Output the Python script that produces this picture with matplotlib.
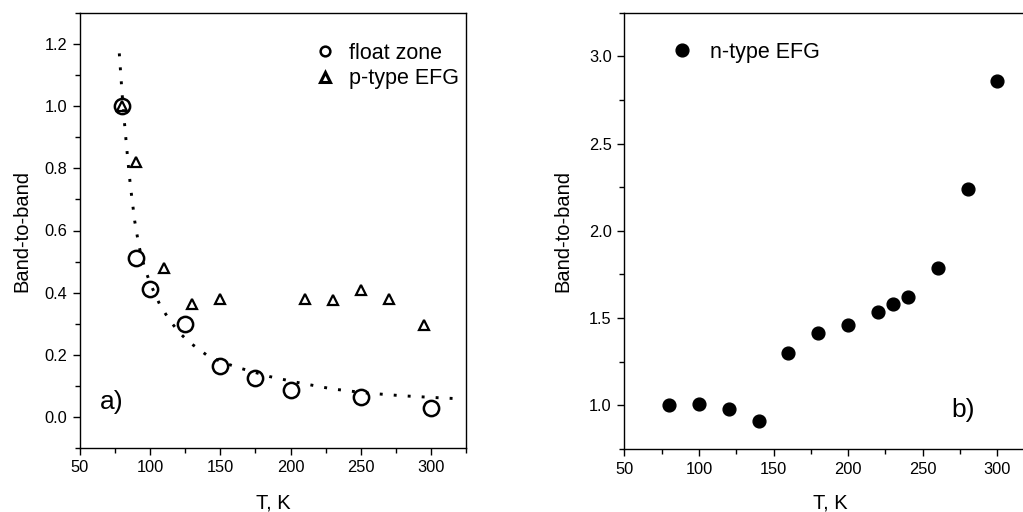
import matplotlib
matplotlib.use("Agg")
import matplotlib.pyplot as plt
from matplotlib.ticker import MultipleLocator, FormatStrFormatter
from matplotlib.lines import Line2D

plt.rcParams['font.family'] = ['Liberation Sans', 'DejaVu Sans']

# Panel a) data
fz_T = [80, 90, 100, 125, 150, 175, 200, 250, 300]
fz_val = [1.0, 0.51, 0.413, 0.30, 0.163, 0.125, 0.088, 0.063, 0.028]
pefg_T = [80, 90, 110, 130, 150, 210, 230, 250, 270, 295]
pefg_val = [1.0, 0.82, 0.48, 0.365, 0.38, 0.38, 0.375, 0.41, 0.378, 0.297]
fit_T = [78, 80, 82, 84, 86, 89, 92, 96, 100, 107, 114, 121, 128, 140, 152, 164, 185, 207, 230, 254, 280, 300, 322]
fit_val = [1.17, 1.04, 0.93, 0.83, 0.74, 0.63, 0.55, 0.48, 0.43, 0.36, 0.31, 0.27, 0.24, 0.20, 0.175, 0.157, 0.13, 0.109, 0.09, 0.077, 0.068, 0.063, 0.058]

# Panel b) data
nefg_T = [80, 100, 120, 140, 160, 180, 200, 220, 230, 240, 260, 280, 300]
nefg_val = [1.002, 1.01, 0.979, 0.908, 1.30, 1.416, 1.462, 1.534, 1.578, 1.62, 1.789, 2.241, 2.861]

fig = plt.figure(figsize=(10.23, 5.12), dpi=100)
ax1 = fig.add_axes([80/1023, 64/512, 386/1023, 435/512])
ax2 = fig.add_axes([624.3/1023, 63/512, 400/1023, 436.3/512])

tick_fs = 11.8
label_fs = 14.5
leg_fs = 15.5
for ax in (ax1, ax2):
    for s in ax.spines.values():
        s.set_linewidth(1.0)
    ax.tick_params(which='major', direction='out', length=5, width=1, labelsize=tick_fs, pad=4)
    ax.tick_params(which='minor', direction='out', length=3.6, width=1)

# Panel a
ax1.plot(fit_T, fit_val, color='black', linestyle=(0, (1, 3.8)), linewidth=2.1, zorder=1)
ax1.plot(fz_T, fz_val, linestyle='none', marker='o', markersize=11, markerfacecolor='none',
         markeredgecolor='black', markeredgewidth=1.8, zorder=3)
ax1.plot(pefg_T, pefg_val, linestyle='none', marker='^', markersize=6.5, markerfacecolor='none',
         markeredgecolor='black', markeredgewidth=1.6, zorder=4)
ax1.set_xlim(50, 325)
ax1.set_ylim(-0.1, 1.3)
ax1.xaxis.set_major_locator(MultipleLocator(50))
ax1.xaxis.set_minor_locator(MultipleLocator(25))
ax1.yaxis.set_major_locator(MultipleLocator(0.2))
ax1.yaxis.set_minor_locator(MultipleLocator(0.1))
ax1.yaxis.set_major_formatter(FormatStrFormatter('%.1f'))
ax1.set_ylabel('Band-to-band', fontsize=label_fs)
ax1.yaxis.set_label_coords(-0.127, 0.5)
ax1.set_xlabel('T, K', fontsize=label_fs)
ax1.xaxis.set_label_coords(0.5, -0.104)
ax1.text(0.0816, 0.106, 'a)', transform=ax1.transAxes, fontsize=19, ha='center', va='center')
h_fz = Line2D([], [], linestyle='none', marker='o', markersize=7, markerfacecolor='none',
              markeredgecolor='black', markeredgewidth=1.8)
h_pe = Line2D([], [], linestyle='none', marker='^', markersize=7.5, markerfacecolor='none',
              markeredgecolor='black', markeredgewidth=2.2)
ax1.legend([h_fz, h_pe], ['float zone', 'p-type EFG'], loc='upper left',
           bbox_to_anchor=(0.556, 0.976), frameon=False, fontsize=leg_fs,
           handlelength=1.0, handletextpad=0.62, labelspacing=0.2)

# Panel b
ax2.plot(nefg_T, nefg_val, linestyle='none', marker='o', markersize=9.2, markerfacecolor='black',
         markeredgecolor='black')
ax2.set_xlim(50, 318)
ax2.set_ylim(0.75, 3.25)
ax2.xaxis.set_major_locator(MultipleLocator(50))
ax2.xaxis.set_minor_locator(MultipleLocator(25))
ax2.yaxis.set_major_locator(MultipleLocator(0.5))
ax2.yaxis.set_minor_locator(MultipleLocator(0.25))
ax2.yaxis.set_major_formatter(FormatStrFormatter('%.1f'))
ax2.set_ylabel('Band-to-band', fontsize=label_fs)
ax2.yaxis.set_label_coords(-0.129, 0.5)
ax2.set_xlabel('T, K', fontsize=label_fs)
ax2.xaxis.set_label_coords(0.514, -0.101)
ax2.text(0.847, 0.089, 'b)', transform=ax2.transAxes, fontsize=19, ha='center', va='center')
h_n = Line2D([], [], linestyle='none', marker='o', markersize=9.2, markerfacecolor='black',
             markeredgecolor='black')
ax2.legend([h_n], ['n-type EFG'], loc='upper left', bbox_to_anchor=(0.07, 0.978), frameon=False,
           fontsize=leg_fs, handlelength=1.0, handletextpad=0.8)

fig.savefig('out.png', dpi=100)
